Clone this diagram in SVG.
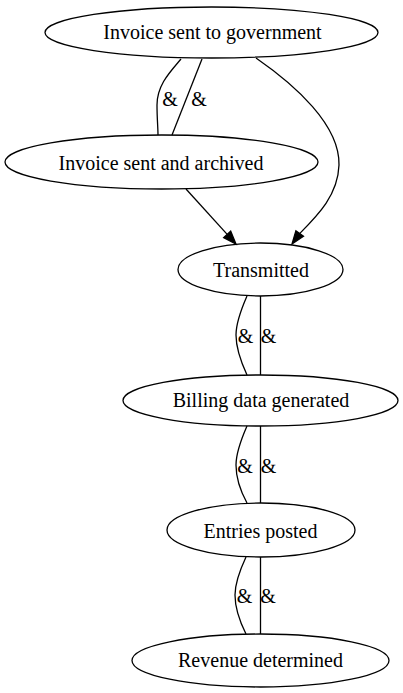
<svg xmlns="http://www.w3.org/2000/svg" width="403" height="693" viewBox="0 0 403 693">
<style>
.node ellipse{fill:none;stroke:#000;stroke-width:1.3}
text{font-family:"Liberation Serif","Times New Roman",serif;font-size:20px;fill:#000;text-anchor:middle}
.edges path{fill:none;stroke:#000;stroke-width:1.3}
.edges polygon{fill:#000;stroke:#000;stroke-width:1.3}
</style>
<rect width="403" height="693" fill="#fff"/>
<g class="edges">
<path d="M181,59 C170,72 157,85 157,105 C157,118 158,128 158,135"/>
<path d="M202,59 L172,135"/>
<text x="170" y="106">&amp;</text>
<text x="199" y="106">&amp;</text>
<path d="M256,58 C295,85 340,125 339,165 C338,195 318,215 299.7,233.5"/>
<polygon points="303.5,236.3 292,244 295.9,230.7"/>
<path d="M186,189 L227.2,234.4"/>
<polygon points="223.7,237.6 236,244 230.7,231.2"/>
<path d="M247,296 C240,312 236,325 236,335 C236,348 241,362 247,375"/>
<path d="M260.5,296 L260.5,375"/>
<text x="245.5" y="343">&amp;</text>
<text x="268.5" y="343">&amp;</text>
<path d="M247,426 C240,442 236,455 236,465 C236,478 241,492 247,503"/>
<path d="M260.5,426 L260.5,503"/>
<text x="245" y="473">&amp;</text>
<text x="268.5" y="473">&amp;</text>
<path d="M246,557 C239,572 235,585 235,595 C235,608 240,622 246,634"/>
<path d="M260.5,557 L260.5,634"/>
<text x="244.5" y="603">&amp;</text>
<text x="268" y="603">&amp;</text>
</g>
<g id="n1" class="node"><ellipse cx="211.5" cy="32.5" rx="166.5" ry="25.5"/><text x="212.5" y="39">Invoice sent to government</text></g>
<g id="n2" class="node"><ellipse cx="161.5" cy="162" rx="156.5" ry="27"/><text x="161" y="170">Invoice sent and archived</text></g>
<g id="n3" class="node"><ellipse cx="260.5" cy="269.5" rx="82.5" ry="26.5"/><text x="261" y="277">Transmitted</text></g>
<g id="n4" class="node"><ellipse cx="260.5" cy="400.5" rx="137.5" ry="25.5"/><text x="261" y="407">Billing data generated</text></g>
<g id="n5" class="node"><ellipse cx="261" cy="530" rx="94" ry="27"/><text x="260.5" y="538">Entries posted</text></g>
<g id="n6" class="node"><ellipse cx="260.5" cy="660.5" rx="128.5" ry="26.5"/><text x="260.5" y="667">Revenue determined</text></g>
</svg>
